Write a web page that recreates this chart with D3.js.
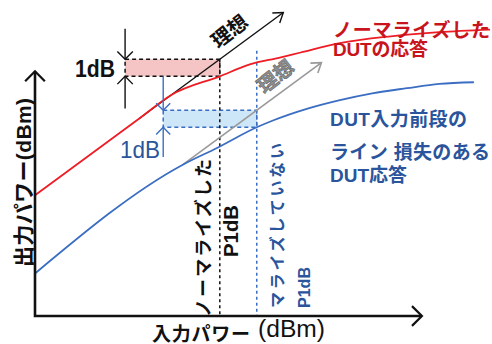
<!DOCTYPE html>
<html>
<head>
<meta charset="utf-8">
<script src="https://cdn.jsdelivr.net/npm/d3@7"></script>
<style>
  body { margin: 0; background: #fff; }
  svg { display: block; }
  text { font-family: "Liberation Sans", "Noto Sans CJK JP", sans-serif; }
</style>
</head>
<body>
<div id="chart"></div>
<script>
// Input power (dB, arbitrary origin) vs output power
const redX  = [0, 4.5, 5.9, 8.0, 9.3, 10.6, 11.5, 13.2, 15.4, 17.5, 19.7];
const redY  = [7.1, 11.6, 13.0, 14.1, 14.8, 15.2, 15.5, 16.05, 16.45, 16.7, 16.85];
const blueX = [0, 6.4, 7.9, 9.6, 10.3, 11.8, 13.2, 14.6, 16.1, 17.5, 19.0];
const blueY = [2.5, 8.9, 9.9, 11.1, 11.5, 12.2, 12.7, 13.1, 13.4, 13.65, 13.75];

// ideal (linear) responses
const idealX = [4.5, 10.75];
const idealY = [11.6, 17.85];
const idealLossX = [6.4, 12.4];
const idealLossY = [8.9, 14.9];

// 1dB compression points: input, ideal output, real output
const p1dbNorm = [8.0, 15.1, 14.1];
const p1dbLoss = [9.6, 12.1, 11.1];

// texts
const normLabel = ["ノーマライズした", "DUTの応答"];
const lossLabel = ["DUT入力前段の", "ライン 損失のある", "DUT応答"];
const idealLabel = "理想";
const normP1Label = ["ノーマライズした", "P1dB"];
const lossP1Label = ["マライズしていない", "P1dB"];
const xTitle = ["入力パワー", "(dBm)"];
const yTitle = "出力パワー(dBm)";
const dbLabel = "1dB";

const W = 492, H = 344;
const RED = "#ee1c24", BLUE = "#3b6ec2", BLUETXT = "#2a559c", REDTXT = "#c8141c";

const svg = d3.select("#chart").append("svg")
  .attr("width", W).attr("height", H);

const x = d3.scaleLinear().domain([0, 20]).range([35, 497]);
const y = d3.scaleLinear().domain([0, 18]).range([316, 10]);

// open chevron arrow head at (tx,ty), pointing along angle ang (radians)
function chevron(g, tx, ty, ang, len, spread, color, w) {
  const a1 = ang + Math.PI - spread, a2 = ang + Math.PI + spread;
  g.append("path")
    .attr("d", `M${tx + len * Math.cos(a1)},${ty + len * Math.sin(a1)}L${tx},${ty}L${tx + len * Math.cos(a2)},${ty + len * Math.sin(a2)}`)
    .attr("fill", "none").attr("stroke", color).attr("stroke-width", w);
}

// shaded 1dB boxes
svg.append("rect")
  .attr("x", x(3.9)).attr("y", y(p1dbNorm[1]))
  .attr("width", x(p1dbNorm[0]) - x(3.9)).attr("height", y(p1dbNorm[2]) - y(p1dbNorm[1]))
  .attr("fill", "#f5c5c6").attr("stroke", "#111").attr("stroke-width", 1.5)
  .attr("stroke-dasharray", "4,3");
svg.append("rect")
  .attr("x", x(5.55)).attr("y", y(p1dbLoss[1]))
  .attr("width", x(p1dbLoss[0]) - x(5.55)).attr("height", y(p1dbLoss[2]) - y(p1dbLoss[1]))
  .attr("fill", "#cde6f8").attr("stroke", BLUE).attr("stroke-width", 1.5)
  .attr("stroke-dasharray", "4,3");

// vertical P1dB markers
svg.append("line")
  .attr("x1", x(p1dbNorm[0])).attr("x2", x(p1dbNorm[0]))
  .attr("y1", y(p1dbNorm[1])).attr("y2", y(0))
  .attr("stroke", "#111").attr("stroke-width", 1.5).attr("stroke-dasharray", "3,3");
svg.append("line")
  .attr("x1", x(p1dbLoss[0])).attr("x2", x(p1dbLoss[0]))
  .attr("y1", y(15.6)).attr("y2", y(0))
  .attr("stroke", BLUE).attr("stroke-width", 1.5).attr("stroke-dasharray", "3,3");

const line = d3.line().x(d => x(d[0])).y(d => y(d[1])).curve(d3.curveMonotoneX);
const straight = d3.line().x(d => x(d[0])).y(d => y(d[1]));

// ideal lines with arrows
const idealPts = d3.zip(idealX, idealY);
svg.append("path").attr("d", straight(idealPts))
  .attr("fill", "none").attr("stroke", "#111").attr("stroke-width", 1.4);
const lossPts = d3.zip(idealLossX, idealLossY);
svg.append("path").attr("d", straight(lossPts))
  .attr("fill", "none").attr("stroke", "#999").attr("stroke-width", 1.6);

function arrowAtEnd(pts, color, w) {
  const p0 = pts[0], p1 = pts[pts.length - 1];
  const ang = Math.atan2(y(p1[1]) - y(p0[1]), x(p1[0]) - x(p0[0]));
  chevron(svg, x(p1[0]), y(p1[1]), ang, 11, 0.6, color, w);
}
arrowAtEnd(idealPts, "#111", 1.4);
arrowAtEnd(lossPts, "#999", 1.6);

// response curves
svg.append("path").attr("d", line(d3.zip(blueX, blueY)))
  .attr("fill", "none").attr("stroke", BLUE).attr("stroke-width", 1.8);
svg.append("path").attr("d", line(d3.zip(redX, redY)))
  .attr("fill", "none").attr("stroke", RED).attr("stroke-width", 1.8);

// 1dB dimension arrows (black)
const bx = x(3.9);
svg.append("line").attr("x1", bx).attr("x2", bx).attr("y1", y(16.9)).attr("y2", y(p1dbNorm[1]))
  .attr("stroke", "#111").attr("stroke-width", 1.4);
chevron(svg, bx, y(p1dbNorm[1]), Math.PI / 2, 11, 0.78, "#111", 1.4);
svg.append("line").attr("x1", bx).attr("x2", bx).attr("y1", y(12.2)).attr("y2", y(p1dbNorm[2]))
  .attr("stroke", "#111").attr("stroke-width", 1.4);
chevron(svg, bx, y(p1dbNorm[2]), -Math.PI / 2, 11, 0.78, "#111", 1.4);

// 1dB dimension arrows (blue)
const cx = x(5.55);
svg.append("line").attr("x1", cx).attr("x2", cx).attr("y1", y(p1dbNorm[2])).attr("y2", y(p1dbLoss[1]))
  .attr("stroke", BLUE).attr("stroke-width", 1.4);
chevron(svg, cx, y(p1dbLoss[1]), Math.PI / 2, 10, 0.78, BLUE, 1.4);
svg.append("line").attr("x1", cx).attr("x2", cx).attr("y1", y(9.35)).attr("y2", y(p1dbLoss[2]))
  .attr("stroke", BLUE).attr("stroke-width", 1.4);
chevron(svg, cx, y(p1dbLoss[2]), -Math.PI / 2, 10, 0.78, BLUE, 1.4);

// axes
const ax = svg.append("g").attr("stroke", "#111").attr("stroke-width", 2.6).attr("fill", "none");
ax.append("path").attr("d", `M${x(0)},${y(14.4)}L${x(0)},${y(0)}L${x(16.75)},${y(0)}`);
chevron(ax, x(0), y(14.4), -Math.PI / 2, 14, 0.78, "#111", 2.2);
chevron(ax, x(16.75), y(0), 0, 14, 0.78, "#111", 2.2);

// helper for text with a fixed drawn length
function label(t, opts) {
  const el = svg.append("text").text(t)
    .attr("font-size", opts.size).attr("fill", opts.fill || "#111");
  if (opts.bold) el.attr("font-weight", "bold");
  if (opts.anchor) el.attr("text-anchor", opts.anchor);
  if (opts.len) el.attr("textLength", opts.len).attr("lengthAdjust", opts.adjust || "spacing");
  if (opts.transform) el.attr("transform", opts.transform);
  else el.attr("x", opts.x).attr("y", opts.y);
  return el;
}

label(dbLabel, {x: 75, y: 77, size: 24, bold: true, len: 40, adjust: "spacingAndGlyphs"});
label(dbLabel, {x: 120, y: 158, size: 24, fill: BLUETXT, len: 40, adjust: "spacingAndGlyphs"});

label(idealLabel, {transform: "translate(234,37) rotate(-38)", size: 20, bold: true, anchor: "middle"});
label(idealLabel, {transform: "translate(280,82) rotate(-38)", size: 20, bold: true, anchor: "middle", fill: "#8f8f8f"})
  .attr("stroke", "#555").attr("stroke-width", 0.5);

const nlY = [37, 56], nlLen = [157, 95];
normLabel.forEach((t, i) => label(t, {x: 333, y: nlY[i], size: 19, bold: true, fill: REDTXT, len: nlLen[i]}));
const llY = [126, 159, 182], llLen = [137, 160, 77];
lossLabel.forEach((t, i) => label(t, {x: 330, y: llY[i], size: 19, bold: true, fill: BLUETXT, len: llLen[i]}));

// rotated labels next to the P1dB markers
label(normP1Label[0], {transform: "translate(210,317) rotate(-90)", size: 18, bold: true, len: 158});
label(normP1Label[1], {transform: "translate(238,257) rotate(-90)", size: 21, bold: true, len: 52, adjust: "spacingAndGlyphs"});
label(lossP1Label[0], {transform: "translate(283,308) rotate(-90)", size: 16, bold: true, fill: BLUETXT, len: 165});
label(lossP1Label[1], {transform: "translate(310,308) rotate(-90)", size: 17, bold: true, fill: BLUETXT, len: 41, adjust: "spacingAndGlyphs"});

// axis titles
label(xTitle[0], {x: 152, y: 341, size: 19, bold: true, len: 98});
label(xTitle[1], {x: 258, y: 337, size: 23, len: 67, adjust: "spacingAndGlyphs"});
label(yTitle, {transform: "translate(31,267) rotate(-90)", size: 21, bold: true, len: 169});
</script>
</body>
</html>
